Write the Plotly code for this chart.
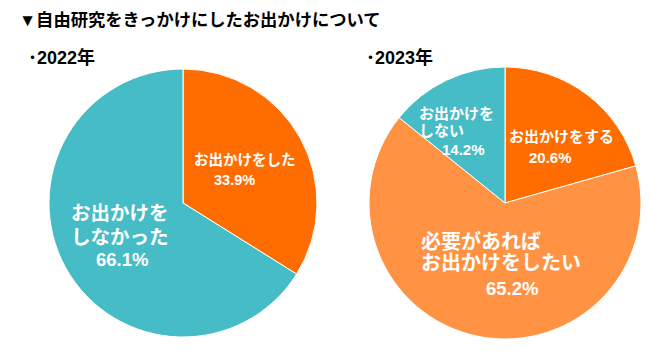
import plotly.graph_objects as go

# ---- data ----
labels_2022 = ["お出かけをした", "お出かけをしなかった"]
values_2022 = [33.9, 66.1]
labels_2023 = ["お出かけをする", "必要があればお出かけをしたい", "お出かけをしない"]
values_2023 = [20.6, 65.2, 14.2]

# label text lines (as displayed on the chart)
lines_2022 = [["お出かけをした"], ["お出かけを", "しなかった"]]
lines_2023 = [["お出かけをする"], ["必要があれば", "お出かけをしたい"], ["お出かけを", "しない"]]

title_text = "▼自由研究をきっかけにしたお出かけについて"
sub_2022 = "･2022年"
sub_2023 = "･2023年"

C_DARK = "#FF6D00"
C_TEAL = "#46BCC6"
C_LIGHT = "#FF9243"

W, H = 650, 355
FONT = "Liberation Sans, Noto Sans CJK JP, sans-serif"

def px_x(x):
    return x / W

def px_y(y):
    return 1 - y / H

def domain(cx, cy, r):
    return dict(x=[px_x(cx - r), px_x(cx + r)], y=[px_y(cy + r), px_y(cy - r)])

fig = go.Figure()
fig.add_trace(go.Pie(
    labels=labels_2022, values=values_2022, sort=False, direction="clockwise",
    rotation=0, textinfo="none", hoverinfo="label+percent",
    marker=dict(colors=[C_DARK, C_TEAL], line=dict(color="white", width=1)),
    domain=domain(183, 203, 134), showlegend=False,
))
fig.add_trace(go.Pie(
    labels=labels_2023, values=values_2023, sort=False, direction="clockwise",
    rotation=0, textinfo="none", hoverinfo="label+percent",
    marker=dict(colors=[C_DARK, C_LIGHT, C_TEAL], line=dict(color="white", width=1)),
    domain=domain(505, 203, 136), showlegend=False,
))

annotations = []

def add_text(text, x, y, size, color="white", bold=True):
    t = f"<b>{text}</b>" if bold else text
    annotations.append(dict(
        text=t, x=px_x(x), y=px_y(y), xref="paper", yref="paper",
        xanchor="left", yanchor="middle", showarrow=False,
        font=dict(family=FONT, size=size, color=color),
    ))

# title and subtitles
add_text(title_text, 17, 20, 17.3, color="black")
add_text(sub_2022, 26, 57, 18, color="black")
add_text(sub_2023, 364, 57, 18, color="black")

# 2022 labels
add_text(lines_2022[0][0], 192, 160, 14.5)
add_text(f"{values_2022[0]}%", 212, 180, 14.5)
add_text(lines_2022[1][0], 69, 213, 19.5)
add_text(lines_2022[1][1], 69, 237, 19.5)
add_text(f"{values_2022[1]}%", 94, 259, 18.5)

# 2023 labels
add_text(lines_2023[0][0], 507, 137, 15)
add_text(f"{values_2023[0]}%", 527, 157, 15)
add_text(lines_2023[1][0], 419, 241, 20)
add_text(lines_2023[1][1], 419, 263, 20)
add_text(f"{values_2023[1]}%", 484, 288, 18.5)
add_text(lines_2023[2][0], 417, 113, 15)
add_text(lines_2023[2][1], 417, 131, 15)
add_text(f"{values_2023[2]}%", 440, 149, 15)

fig.update_layout(
    width=W, height=H, margin=dict(l=0, r=0, t=0, b=0),
    paper_bgcolor="white", plot_bgcolor="white",
    annotations=annotations,
)

fig.write_html("out.html", config={"displayModeBar": False},
               post_script="document.body.style.margin='0';")
